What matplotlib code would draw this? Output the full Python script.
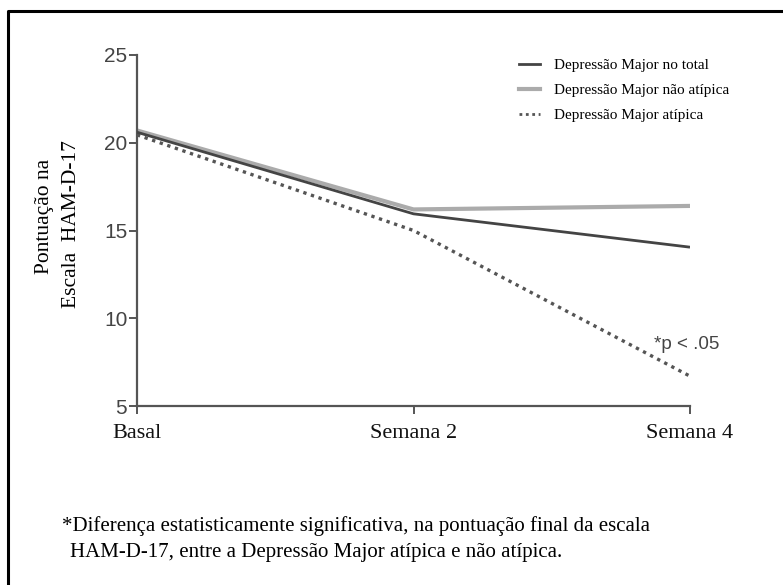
import matplotlib
matplotlib.use("Agg")
import matplotlib.pyplot as plt
from matplotlib.lines import Line2D

# HAM-D-17 scores per visit
visits = ["Basal", "Semana 2", "Semana 4"]
total = [20.6, 15.95, 14.05]
nao_atipica = [20.7, 16.2, 16.4]
atipica = [20.45, 15.0, 6.7]

series_labels = [
    "Depressão Major no total",
    "Depressão Major não atípica",
    "Depressão Major atípica",
]
yticks = [5, 10, 15, 20, 25]

SERIF = "Liberation Serif"
SANS = "Liberation Sans"
AXIS_GREY = "#555555"

W, H = 783, 585
fig = plt.figure(figsize=(W / 100, H / 100), dpi=100)
ax = fig.add_axes([137 / W, 1 - 406 / H, (690 - 137) / W, (406 - 55) / H])

x = list(range(len(visits)))
ax.plot(x, total, color="#444444", lw=2.0, solid_capstyle="butt", zorder=3)
ax.plot(x, nao_atipica, color="#ababab", lw=3.0, solid_capstyle="butt", zorder=2)
ax.plot(x, atipica, color="#555555", lw=2.4, linestyle=(0, (1, 1.4)), zorder=2)

ax.set_xlim(0, 2)
ax.set_ylim(5, 25)
ax.set_yticks(yticks)
ax.set_xticks(x)
ax.set_xticklabels(visits, fontfamily=SERIF, fontsize=16, color="#111111")
for lbl in ax.get_yticklabels():
    lbl.set_fontfamily(SANS)
    lbl.set_fontsize(15)
    lbl.set_color("#444444")

for side in ("top", "right"):
    ax.spines[side].set_visible(False)
for side in ("left", "bottom"):
    ax.spines[side].set_color(AXIS_GREY)
    ax.spines[side].set_linewidth(1.6)
ax.tick_params(axis="both", direction="out", length=6, width=1.4, color=AXIS_GREY)
ax.tick_params(axis="x", pad=7)
ax.tick_params(axis="y", pad=1)

ax.text(1.87, 8.5, "*p < .05", fontfamily=SANS, fontsize=13.5, color="#444444",
        ha="left", va="center")

handles = [
    Line2D([], [], color="#444444", lw=2.0),
    Line2D([], [], color="#ababab", lw=3.0),
    Line2D([], [], color="#555555", lw=2.0, linestyle=(0, (1, 1.3))),
]
leg = ax.legend(handles, series_labels, loc="upper left",
                bbox_to_anchor=((505 - 137) / (690 - 137), 1.03),
                frameon=False, prop={"family": SERIF, "size": 11},
                handlelength=1.4, handletextpad=0.9, labelspacing=0.75)

# y-axis title, two centred lines
fig.text(44 / W, 1 - 216 / H, "Pontuação na", rotation=90, fontfamily=SERIF,
         fontsize=15.5, ha="center", va="center")
fig.text(72 / W, 1 - 224 / H, "Escala  HAM-D-17", rotation=90, fontfamily=SERIF,
         fontsize=15.5, ha="center", va="center")

# footnote
fig.text(62 / W, 1 - 526 / H,
         "*Diferença estatisticamente significativa, na pontuação final da escala",
         fontfamily=SERIF, fontsize=15, ha="left", va="center")
fig.text(70 / W, 1 - 552 / H,
         "HAM-D-17, entre a Depressão Major atípica e não atípica.",
         fontfamily=SERIF, fontsize=15, ha="left", va="center")

# frame edges along top and left
fig.add_artist(Line2D([8 / W, 8 / W, 1], [0, 1 - 10.5 / H, 1 - 10.5 / H],
                      transform=fig.transFigure, color="black", lw=2.2))

fig.savefig("out.png", dpi=100)
